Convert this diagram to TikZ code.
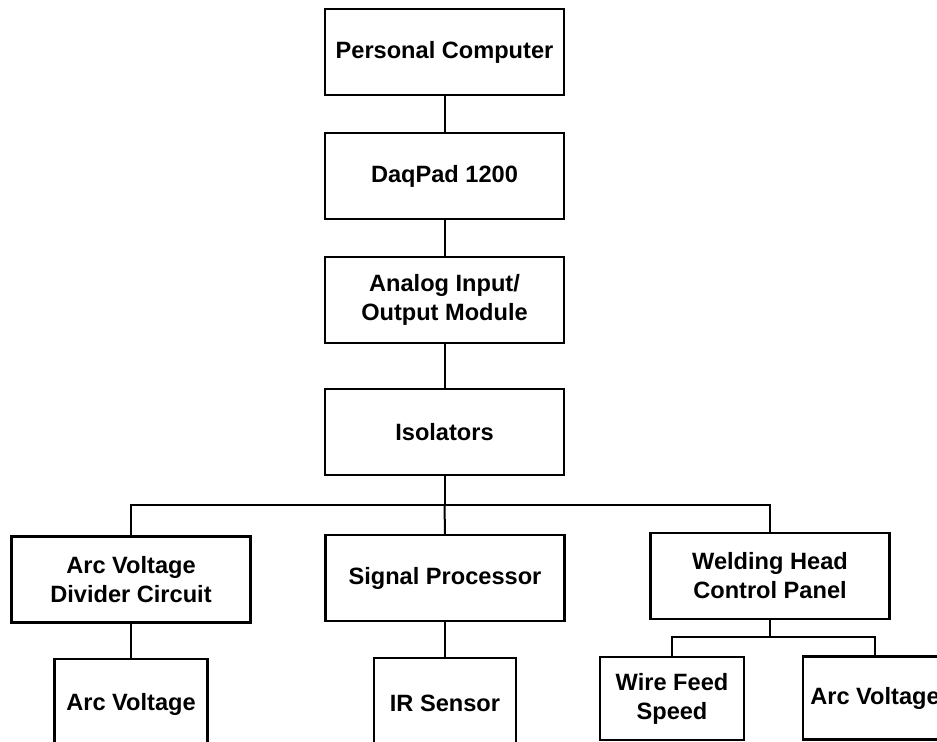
\documentclass[tikz,border=0pt]{standalone}
\usepackage{fontspec}
\setmainfont{Liberation Sans}
\usepackage{tikz}
\usepackage{xcolor}

\begin{document}
\begin{tikzpicture}[x=0.5pt, y=-0.5pt,
  every node/.style = {shape=rectangle, draw, line width=1.1pt,
    align=center, inner sep=0pt,
    font=\fontsize{11.8}{14.5}\selectfont\bfseries,
    minimum width=119.5pt, minimum height=43pt},
  small/.style = {minimum width=72pt, minimum height=41.5pt},
  link/.style = {line width=1pt}]
  \clip (0,0) rectangle (937,742);

  % main chain
  \node (pc)  at (444.5,52)  {Personal Computer};
  \node (daq) at (444.5,176) {DaqPad 1200};
  \node (aio) at (444.5,300) {Analog Input/\\Output Module};
  \node (iso) at (444.5,432) {Isolators};

  % second row
  \node (avd) at (131,579.5) {Arc Voltage\\Divider Circuit};
  \node (sig) at (445,578)   {Signal Processor};
  \node (whc) at (770,576)   {Welding Head\\Control Panel};

  % sensors (the first two run off the bottom edge)
  \node[small, minimum width=76.5pt, minimum height=45pt] (arcv) at (131,704)  {Arc Voltage};
  \node[small, minimum width=71pt, minimum height=45pt]   (irs)  at (445,703) {IR Sensor};
  \node[small] (wfs)  at (672,698.5) {Wire Feed\\Speed};
  \node[small] (arcw) at (875,698)   {Arc Voltage};

  \coordinate (bus)  at (444.5,505);
  \coordinate (wbus) at (770,637);

  \draw[link] (pc) -- (daq);
  \draw[link] (daq) -- (aio);
  \draw[link] (aio) -- (iso);
  \draw[link] (iso) -- (bus);
  \draw[link] (avd.north) |- (bus) -| (whc.north);
  \draw[link] (bus) -- (sig.north);
  \draw[link] (avd) -- (arcv);
  \draw[link] (sig) -- (irs);
  \draw[link] (whc) -- (wbus);
  \draw[link] (wfs.north) |- (wbus) -| (arcw.north);
\end{tikzpicture}
\end{document}
